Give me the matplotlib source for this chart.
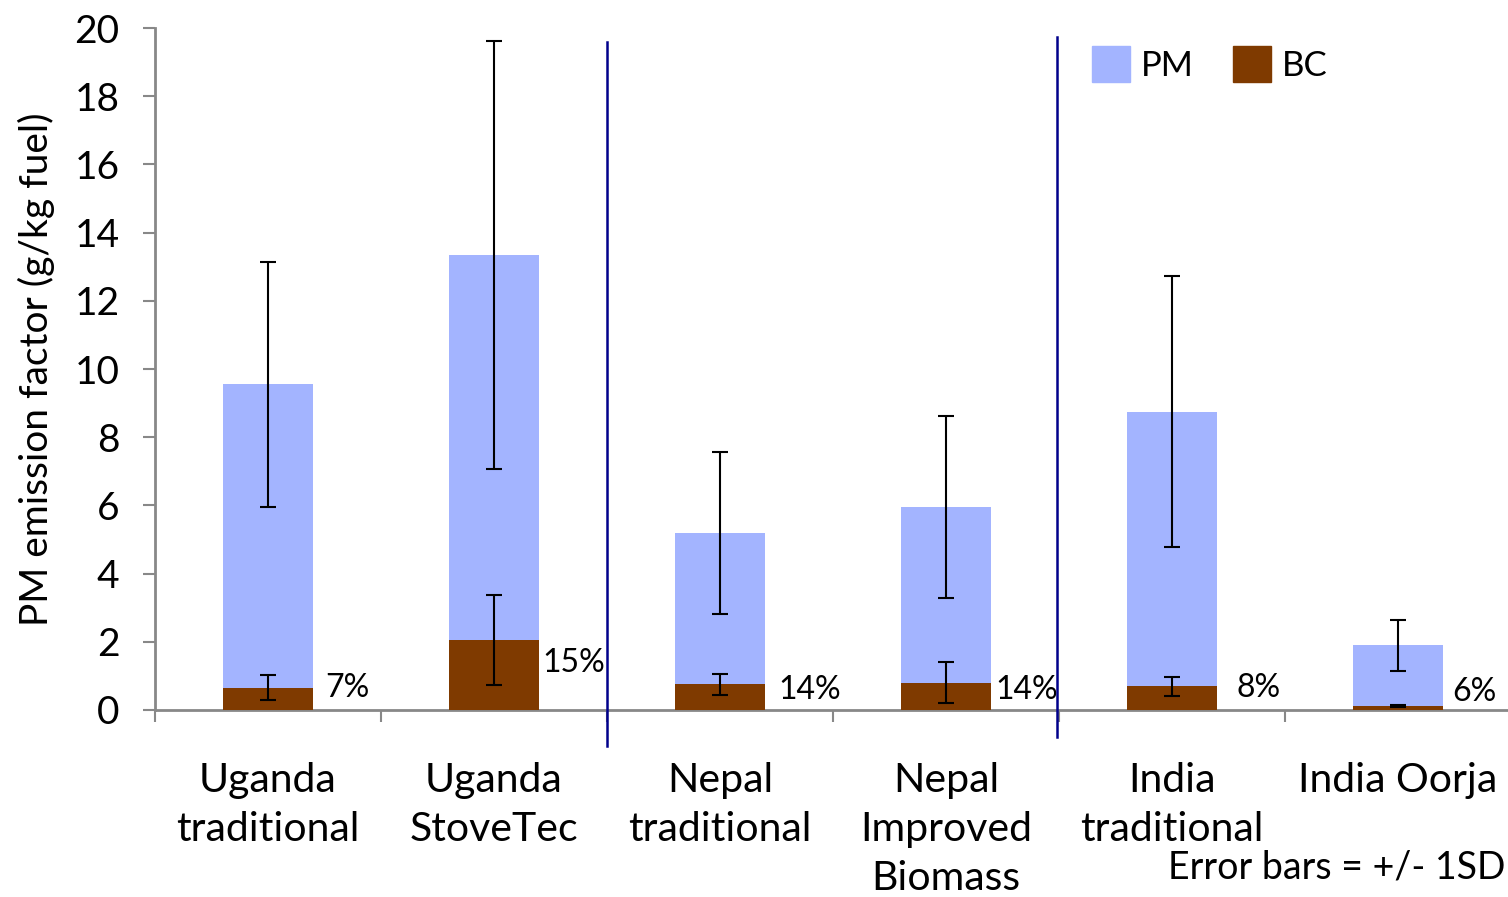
import matplotlib
matplotlib.use("Agg")
import matplotlib.pyplot as plt
import numpy as np
from matplotlib.patches import Patch

plt.rcParams['font.family'] = ['Lato', 'DejaVu Sans']

categories = ["Uganda\ntraditional", "Uganda\nStoveTec", "Nepal\ntraditional",
              "Nepal\nImproved\nBiomass", "India\ntraditional", "India Oorja"]
pm = [9.55, 13.35, 5.2, 5.95, 8.75, 1.9]
pm_err = [3.6, 6.28, 2.38, 2.68, 3.98, 0.75]
bc = [0.65, 2.05, 0.75, 0.8, 0.7, 0.12]
bc_err = [0.37, 1.33, 0.3, 0.6, 0.28, 0.04]
pct_labels = ["7%", "15%", "14%", "14%", "8%", "6%"]
pct_y = [0.65, 1.38, 0.59, 0.59, 0.65, 0.53]
pct_dx = [0.055, 0.013, 0.057, 0.018, 0.085, 0.04]

pm_color = "#A3B4FF"
bc_color = "#7F3A00"
axis_color = "#888888"

fig = plt.figure(figsize=(15.08, 8.97), dpi=100)
ax = fig.add_axes([155/1508, 1 - 710/897, (1508-155)/1508, (710-28)/897])

x = np.arange(len(categories))
w = 0.4
ax.bar(x, pm, w, color=pm_color, zorder=2)
ax.bar(x, bc, w, color=bc_color, zorder=3)
ax.errorbar(x, pm, yerr=pm_err, fmt='none', ecolor='black', elinewidth=1.5,
            capsize=6, capthick=1.5, zorder=4)
ax.errorbar(x, bc, yerr=bc_err, fmt='none', ecolor='black', elinewidth=1.5,
            capsize=6, capthick=1.5, zorder=4)

for xi, lab, yy, dx in zip(x, pct_labels, pct_y, pct_dx):
    ax.text(xi + w/2 + dx, yy, lab, fontsize=23, va='center', ha='left', zorder=5)

ax.set_xlim(-0.5, 5.5 - 3/226)
ax.set_ylim(0, 20)
ax.set_yticks(np.arange(0, 21, 2))
ax.tick_params(axis='y', labelsize=28, length=8.6, width=1.5, color=axis_color, pad=17)
ax.set_xticks(np.arange(-0.5, 5.5, 1))
ax.set_xticklabels([])
ax.tick_params(axis='x', length=8.6, width=1.5, color=axis_color)
ax.set_xticks(x, minor=True)
ax.set_xticklabels(categories, minor=True, fontsize=29.5, linespacing=1.4, va='top')
ax.tick_params(axis='x', which='minor', length=0, pad=37.5)

for s in ['top', 'right']:
    ax.spines[s].set_visible(False)
for s in ['left', 'bottom']:
    ax.spines[s].set_color(axis_color)
    ax.spines[s].set_linewidth(2)

ax.set_ylabel("PM emission factor (g/kg fuel)", fontsize=28)
ax.yaxis.set_label_coords(-100/1353, 0.5)

# separators
for xs, top, bot in [(1.5, 19.6, -1.05), (3.49, 19.75, -0.8)]:
    ax.plot([xs, xs], [bot, top], color="#00008B", lw=1.8, clip_on=False, zorder=6)

handles = [Patch(color=pm_color, label="PM"), Patch(color=bc_color, label="BC")]
fig.legend(handles=handles, loc='upper left', bbox_to_anchor=(1061/1508, 1 - 15/897),
           ncol=2, frameon=False, fontsize=25, handlelength=1.1, handleheight=1.2,
           columnspacing=1.13, handletextpad=0.3, borderpad=0.4)

fig.text(1505/1508, 1 - 867/897, "Error bars = +/- 1SD", fontsize=27, ha='right', va='center')

fig.savefig("out.png", dpi=100)
